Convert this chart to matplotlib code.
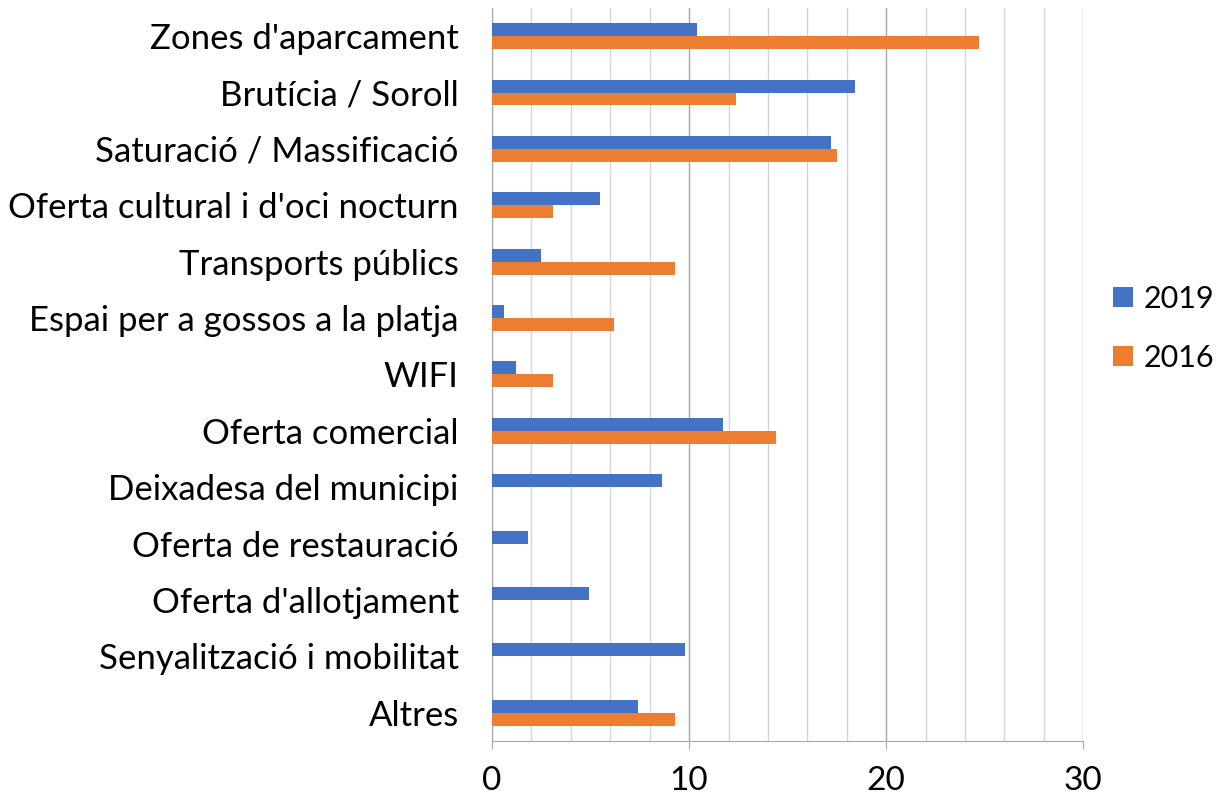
import numpy as np
import matplotlib.pyplot as plt
from matplotlib.ticker import MultipleLocator

plt.rcParams['font.family'] = ['Lato', 'DejaVu Sans']

categories = ["Zones d'aparcament", "Brutícia / Soroll", "Saturació / Massificació",
              "Oferta cultural i d'oci nocturn", "Transports públics",
              "Espai per a gossos a la platja", "WIFI", "Oferta comercial",
              "Deixadesa del municipi", "Oferta de restauració", "Oferta d'allotjament",
              "Senyalització i mobilitat", "Altres"]
v2019 = [10.4, 18.4, 17.2, 5.5, 2.5, 0.6, 1.2, 11.7, 8.6, 1.8, 4.9, 9.8, 7.4]
v2016 = [24.7, 12.4, 17.5, 3.1, 9.3, 6.2, 3.1, 14.4, 0, 0, 0, 0, 9.3]

blue = '#4472C4'
orange = '#ED7D31'

fig = plt.figure(figsize=(12.24, 7.95), dpi=100)
ax = fig.add_axes([0.402, 0.068, 0.483, 0.922])

y = np.arange(len(categories))
h = 0.23
ax.barh(y - h / 2, v2019, height=h, color=blue, label='2019', zorder=3)
ax.barh(y + h / 2, v2016, height=h, color=orange, label='2016', zorder=3)

ax.set_ylim(len(categories) - 0.5, -0.5)
ax.set_xlim(0, 30)
ax.set_yticks(y)
ax.set_yticklabels(categories, fontsize=25)
ax.xaxis.set_major_locator(MultipleLocator(10))
ax.xaxis.set_minor_locator(MultipleLocator(2))
ax.tick_params(axis='x', which='major', labelsize=24, length=6, color='#a6a6a6', pad=12)
ax.tick_params(axis='x', which='minor', length=0)
ax.tick_params(axis='y', length=0, pad=24)

ax.grid(axis='x', which='major', color='#a6a6a6', linewidth=1, zorder=0)
ax.grid(axis='x', which='minor', color='#d4d4d4', linewidth=1, zorder=0)

for s in ['top', 'right']:
    ax.spines[s].set_visible(False)
ax.spines['left'].set_color('#a6a6a6')
ax.spines['bottom'].set_color('#a6a6a6')

ax.legend(loc='center left', bbox_to_anchor=(1.05, 0.563), frameon=False,
          fontsize=22, handlelength=0.65, handleheight=0.65, handletextpad=0.35,
          labelspacing=1.0, borderpad=0, borderaxespad=0)

fig.savefig('out.png', dpi=100)
